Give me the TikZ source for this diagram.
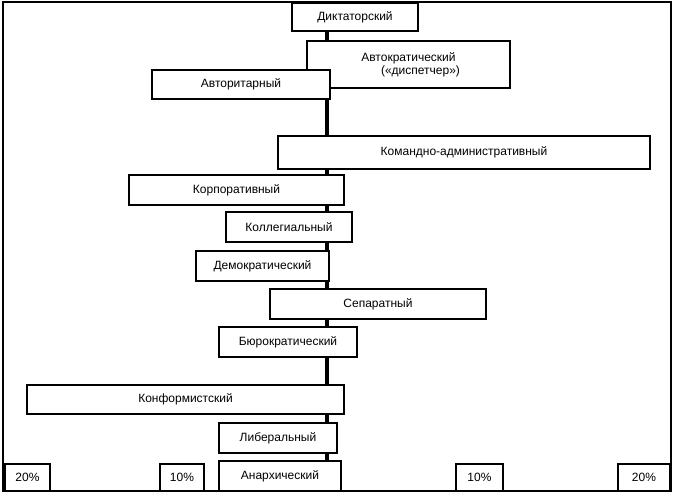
\documentclass[tikz,border=0pt]{standalone}
\usepackage{fontspec}
\setmainfont{Liberation Sans}
\begin{document}
\begin{tikzpicture}[x=1pt,y=-1pt,
  bx/.style={draw,line width=1.2pt,fill=white},
  lb/.style={font=\fontsize{12}{14}\selectfont,align=center}]
\useasboundingbox (0,0) rectangle (677,495);
\draw[line width=1.2pt] (3,2) rectangle (671,491);
\coordinate (top) at (327,31);
\coordinate (bot) at (327,461);
\draw[line width=4pt] (top) -- (bot);
\newcommand\bx[6]{\draw[bx] (#2,#3) rectangle (#4,#5); \node[lb] (#1) at ({(#2+#4)/2},{(#3+#5)/2}) {#6};}
\bx{d}{292}{3}{418}{31}{Диктаторский}
\bx{a}{307}{41}{510}{88}{Автократический\\[-1pt]\hspace*{2em}(«диспетчер»)}
\bx{r}{152}{70}{330}{99}{Авторитарный}
\bx{k}{278}{136}{650}{169}{Командно-административный}
\bx{c}{129}{175}{344}{205}{Корпоративный}
\bx{g}{226}{212}{352}{242}{Коллегиальный}
\bx{m}{196}{251}{329}{281}{Демократический}
\bx{s}{270}{289}{486}{319}{Сепаратный}
\bx{b}{219}{327}{357}{357}{Бюрократический}
\bx{f}{27}{385}{344}{414}{Конформистский}
\bx{l}{219}{423}{337}{453}{Либеральный}
\bx{n}{219}{461}{341}{491}{Анархический}
\bx{p1}{5}{464}{50}{491}{20\%}
\bx{p2}{160}{464}{204}{491}{10\%}
\bx{p3}{456}{464}{503}{491}{10\%}
\bx{p4}{618}{464}{670}{491}{20\%}
\end{tikzpicture}
\end{document}
